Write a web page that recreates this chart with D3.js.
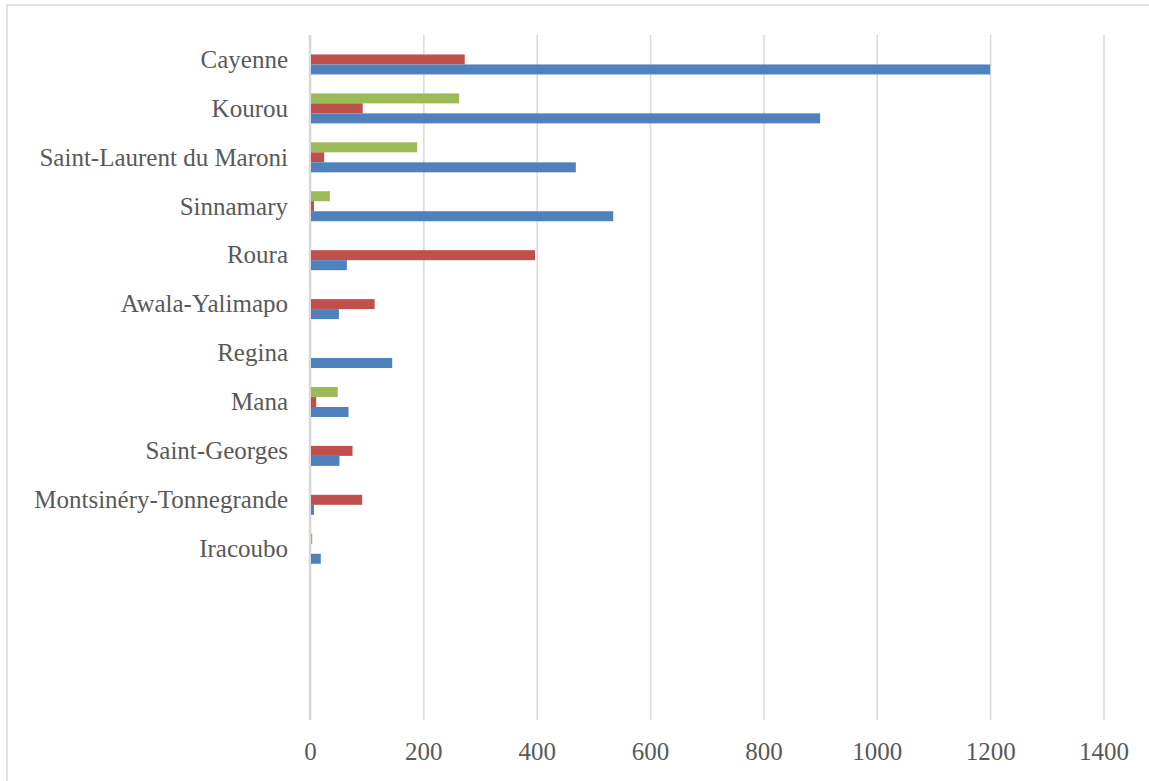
<!DOCTYPE html>
<html>
<head>
<meta charset="utf-8">
<script src="https://cdn.jsdelivr.net/npm/d3@7"></script>
<style>
  body { margin: 0; background: #fff; }
  text { font-family: "Liberation Serif", serif; fill: #595959; }
</style>
</head>
<body>
<div id="chart"></div>
<script>
var svgWidth = 1149;
var svgHeight = 781;

// categories top to bottom (last three are blank rows in the source)
var categories = ['Cayenne', 'Kourou', 'Saint-Laurent du Maroni', 'Sinnamary', 'Roura',
  'Awala-Yalimapo', 'Regina', 'Mana', 'Saint-Georges', 'Montsinéry-Tonnegrande',
  'Iracoubo', '', '', ''];
var blueValues  = [1200, 900, 469, 535, 65, 51, 145, 68, 52, 7, 19, 0, 0, 0];
var redValues   = [273, 93, 25, 7, 397, 114, 0, 11, 75, 92, 0, 0, 0, 0];
var greenValues = [0, 263, 189, 35, 0, 0, 0, 49, 0, 0, 4, 1.5, 0.4, 0.4];
var xTicks = [0, 200, 400, 600, 800, 1000, 1200, 1400];

var series = [
  { key: 'green', color: '#9bbb59', values: greenValues },
  { key: 'red',   color: '#c0504d', values: redValues },
  { key: 'blue',  color: '#4f81bd', values: blueValues }
];

var plot = { left: 310, right: 1103.5, top: 35, bottom: 720 };

var svg = d3.select('#chart').append('svg')
    .attr('width', svgWidth)
    .attr('height', svgHeight);

// outer chart frame
svg.append('rect')
    .attr('x', 7).attr('y', 5)
    .attr('width', 1200).attr('height', 900)
    .attr('fill', 'none')
    .attr('stroke', '#d9d9d9')
    .attr('stroke-width', 1.5);

var xScale = d3.scaleLinear()
    .domain([0, 1400])
    .range([plot.left, plot.right]);

var yScale = d3.scaleBand()
    .domain(d3.range(categories.length))
    .range([plot.top, plot.bottom])
    .paddingInner(0.387)
    .paddingOuter(0.1935);

var inner = d3.scaleBand()
    .domain(series.map(s => s.key))
    .range([0, yScale.bandwidth()]);

// gridlines + tick labels
var xAxis = svg.append('g')
    .attr('transform', `translate(0, ${plot.bottom})`)
    .call(d3.axisBottom(xScale).tickValues(xTicks).tickSize(-(plot.bottom - plot.top)).tickFormat(d3.format('d')));

xAxis.select('.domain').remove();
xAxis.selectAll('line')
    .attr('stroke', '#d9d9d9')
    .attr('stroke-width', 1.5);
xAxis.selectAll('text')
    .attr('y', 40)
    .attr('dy', 0)
    .attr('fill', '#595959')
    .attr('font-size', 25)
    .attr('font-family', '"Liberation Serif", serif')
    .attr('text-anchor', 'middle');

// left axis line
svg.append('line')
    .attr('x1', xScale(0)).attr('x2', xScale(0))
    .attr('y1', plot.top).attr('y2', plot.bottom)
    .attr('stroke', '#d9d9d9')
    .attr('stroke-width', 2.5);

// bars
series.forEach(function(s) {
  svg.append('g').selectAll('rect')
    .data(s.values)
    .enter()
    .append('rect')
    .attr('x', xScale(0) + 1)
    .attr('y', (d, i) => yScale(i) + inner(s.key))
    .attr('width', d => Math.max(0, xScale(d) - xScale(0) - 1))
    .attr('height', inner.bandwidth())
    .attr('fill', s.color)
    .attr('opacity', d => d < 1 ? 0.4 : 1);
});

// category labels
svg.append('g').selectAll('text')
    .data(categories)
    .enter()
    .append('text')
    .attr('x', 288)
    .attr('y', (d, i) => yScale(i) + yScale.bandwidth() / 2)
    .attr('dy', '0.33em')
    .attr('text-anchor', 'end')
    .attr('font-size', 25)
    .text(d => d);
</script>
</body>
</html>
